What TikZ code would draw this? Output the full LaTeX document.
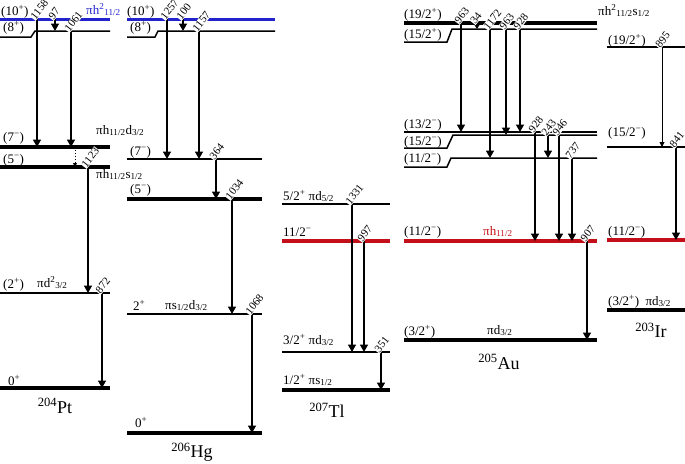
\documentclass[tikz,border=0pt]{standalone}
\usepackage{fontspec}
\setmainfont{Liberation Serif}
\usetikzlibrary{arrows.meta}
\definecolor{hblue}{RGB}{35,35,205}
\definecolor{hred}{RGB}{195,15,25}
\newcommand{\lsb}[1]{\textsubscript{#1}}
\newcommand{\lsp}[1]{\textsuperscript{#1}}
\tikzset{
  lev/.style={line width=1.5pt},
  levk/.style={line width=4.5pt},
  levr/.style={line width=3.5pt, draw=hred},
  levb/.style={line width=3pt, draw=hblue},
  tr/.style={line width=1.6pt, -{Triangle[length=7.5pt,width=8pt]}},
  trthin/.style={line width=0.9pt, -{Triangle[length=5pt,width=5pt]}},
  elab/.style={font=\fontsize{11}{11}\selectfont, fill=white, inner sep=0.4pt, anchor=west, xshift=-5pt, yshift=0pt, rotate=52},
  slab/.style={font=\fontsize{13}{13}\selectfont, inner sep=0pt, anchor=base west},
  iso/.style={font=\fontsize{18}{18}\selectfont, inner sep=0pt}
}
\begin{document}
\begin{tikzpicture}[x=1pt, y=-1pt]
\useasboundingbox (0,0) rectangle (685,463);

% 204Pt
\coordinate (pt10) at (0,19);
\coordinate (pt8) at (0,31);
\coordinate (pt7) at (0,147);
\coordinate (pt5) at (0,167);
\coordinate (pt2) at (0,293);
\coordinate (pt0) at (0,388);

\draw[levb] (pt10) -- ++(110,0);
\draw[lev] (0,37) -- (31,37) -- (35,31) -- (110,31);
\draw[levk] (pt7) -- ++(110,0);
\draw[levk] (pt5) -- ++(110,0);
\draw[lev] (pt2) -- ++(110,0);
\draw[levk] (pt0) -- ++(110,0);

\node[slab] (ptl10) at (1,15) {(10\lsp{+})};
\node[slab, text=hblue] (ptc10) at (86,14) {πh\lsp{2}\lsb{11/2}};
\node[slab] (ptl8) at (3,31) {(8\lsp{+})};
\node[slab] (ptl7) at (3,141) {(7\lsp{−})};
\node[slab] (ptc7) at (96,134) {πh\lsb{11/2}d\lsb{3/2}};
\node[slab] (ptl5) at (3,163) {(5\lsp{−})};
\node[slab] (ptc5) at (96,178) {πh\lsb{11/2}s\lsb{1/2}};
\node[slab] (ptl2) at (3,288) {(2\lsp{+})};
\node[slab] (ptc2) at (37,287) {πd\lsp{2}\lsb{3/2}};
\node[slab] (ptl0) at (8,385) {0\lsp{+}};
\node[iso] (ptn) at (55,406) {\lsp{204}Pt};

\draw[tr] (37,0 |- pt10) node[elab] {1158} -- (37,0 |- pt7);
\draw[tr] (55,0 |- pt10) node[elab] {97} -- (55,0 |- pt8);
\draw[tr] (71,0 |- pt8) node[elab] {1061} -- (71,0 |- pt7);
\draw[dotted, line width=0.9pt, -{Triangle[length=4pt,width=4pt]}] (75,0 |- pt7) -- (75,0 |- pt5);
\draw[tr] (88,0 |- pt5) node[elab] {1123} -- (88,0 |- pt2);
\draw[tr] (102,0 |- pt2) node[elab] {872} -- (102,0 |- pt0);

% 206Hg
\coordinate (hg10) at (127,19);
\coordinate (hg8) at (127,31);
\coordinate (hg7) at (127,159);
\coordinate (hg5) at (127,199);
\coordinate (hg2) at (127,314);
\coordinate (hg0) at (127,433);

\draw[levb] (hg10) -- (275,19);
\draw[lev] (127,37) -- (155,37) -- (158,31) -- (275,31);
\draw[lev] (hg7) -- ++(135,0);
\draw[levk] (hg5) -- ++(135,0);
\draw[lev] (hg2) -- ++(135,0);
\draw[levk] (hg0) -- ++(135,0);

\node[slab] (hgl10) at (127,15) {(10\lsp{+})};
\node[slab] (hgl8) at (130,31) {(8\lsp{+})};
\node[slab] (hgl7) at (130,155) {(7\lsp{−})};
\node[slab] (hgl5) at (130,193) {(5\lsp{−})};
\node[slab] (hgl2) at (133,310) {2\lsp{+}};
\node[slab] (hgc2) at (165,309) {πs\lsb{1/2}d\lsb{3/2}};
\node[slab] (hgl0) at (135,427) {0\lsp{+}};
\node[iso] (hgn) at (192,452) {\lsp{206}Hg};

\draw[tr] (167,0 |- hg10) node[elab] {1257} -- (167,0 |- hg7);
\draw[tr] (183,0 |- hg10) node[elab] {100} -- (183,0 |- hg8);
\draw[tr] (199,0 |- hg8) node[elab] {1157} -- (199,0 |- hg7);
\draw[tr] (216,0 |- hg7) node[elab] {364} -- (216,0 |- hg5);
\draw[tr] (232,0 |- hg5) node[elab] {1034} -- (232,0 |- hg2);
\draw[tr] (252,0 |- hg2) node[elab] {1068} -- (252,0 |- hg0);

% 207Tl
\coordinate (tl5) at (282,204);
\coordinate (tl11) at (282,241);
\coordinate (tl3) at (282,352);
\coordinate (tl1) at (282,390);

\draw[lev] (tl5) -- ++(108,0);
\draw[levr] (tl11) -- ++(108,0);
\draw[lev] (tl3) -- ++(108,0);
\draw[levk] (tl1) -- ++(108,0);

\node[slab] (tll5) at (283,200) {5/2\lsp{+} πd\lsb{5/2}};
\node[slab] (tll11) at (283,236) {11/2\lsp{−}};
\node[slab] (tll3) at (283,344) {3/2\lsp{+} πd\lsb{3/2}};
\node[slab] (tll1) at (283,384) {1/2\lsp{+} πs\lsb{1/2}};
\node[iso] (tln) at (327,410) {\lsp{207}Tl};

\draw[tr] (352,0 |- tl5) node[elab] {1331} -- (352,0 |- tl3);
\draw[tr] (364,0 |- tl11) node[elab] {997} -- (364,0 |- tl3);
\draw[tr] (381,0 |- tl3) node[elab] {351} -- (381,0 |- tl1);

% 205Au
\coordinate (au19) at (404,23);
\coordinate (au15p) at (404,29);
\coordinate (au13) at (404,132);
\coordinate (au15m) at (404,135);
\coordinate (au11) at (404,158);
\coordinate (au11r) at (404,241);
\coordinate (au3) at (404,340);

\draw[levk] (au19) -- ++(193,0);
\draw[lev] (404,42) -- (447,42) -- (452,29) -- (597,29);
\draw[line width=2pt] (au13) -- ++(193,0);
\draw[lev] (404,148) -- (447,148) -- (453,135) -- (597,135);
\draw[lev] (404,167) -- (447,167) -- (451,158) -- (597,158);
\draw[levr] (au11r) -- ++(193,0);
\draw[levk] (au3) -- ++(193,0);

\node[slab] (aul19) at (404,18) {(19/2\lsp{+})};
\node[slab] (aul15p) at (404,38) {(15/2\lsp{+})};
\node[slab] (auc19) at (598,15) {πh\lsp{2}\lsb{11/2}s\lsb{1/2}};
\node[slab] (aul13) at (404,128) {(13/2\lsp{−})};
\node[slab] (aul15m) at (404,145) {(15/2\lsp{−})};
\node[slab] (aul11) at (404,162) {(11/2\lsp{−})};
\node[slab] (aul11r) at (404,235) {(11/2\lsp{−})};
\node[slab, text=hred] (auc11r) at (483,235) {πh\lsb{11/2}};
\node[slab] (aul3) at (404,335) {(3/2\lsp{+})};
\node[slab] (auc3) at (487,334) {πd\lsb{3/2}};
\node[iso] (aun) at (499,362) {\lsp{205}Au};

\draw[tr] (461,0 |- au19) node[elab] {963} -- (461,0 |- au13);
\draw[line width=1.2pt, -{Triangle[length=5pt,width=6pt]}] (477,0 |- au19) node[elab] {34} -- (477,0 |- au15p);
\draw[tr] (490,0 |- au15p) node[elab] {1172} -- (490,0 |- au11);
\draw[tr] (506,0 |- au15p) node[elab] {963} -- (506,0 |- au15m);
\draw[tr] (520,0 |- au15p) node[elab] {928} -- (520,0 |- au13);
\draw[tr] (535,0 |- au13) node[elab] {928} -- (535,0 |- au11r);
\draw[tr] (548,0 |- au15m) node[elab] {243} -- (548,0 |- au11);
\draw[tr] (559,0 |- au15m) node[elab] {946} -- (559,0 |- au11r);
\draw[tr] (572,0 |- au11) node[elab] {737} -- (572,0 |- au11r);
\draw[tr] (587,0 |- au11r) node[elab] {907} -- (587,0 |- au3);

% 203Ir
\coordinate (ir19) at (607,47);
\coordinate (ir15) at (607,147);
\coordinate (ir11) at (607,240);
\coordinate (ir3) at (607,310);

\draw[lev] (ir19) -- ++(80,0);
\draw[lev] (ir15) -- ++(80,0);
\draw[levr] (ir11) -- ++(80,0);
\draw[levk] (ir3) -- ++(80,0);

\node[slab] (irl19) at (608,44) {(19/2\lsp{+})};
\node[slab] (irl15) at (608,136) {(15/2\lsp{−})};
\node[slab] (irl11) at (608,235) {(11/2\lsp{−})};
\node[slab] (irl3) at (608,305) {(3/2\lsp{+})\ \ πd\lsb{3/2}};
\node[iso] (irn) at (651,330) {\lsp{203}Ir};

\draw[trthin] (662,0 |- ir19) node[elab] {895} -- (662,0 |- ir15);
\draw[tr] (676,0 |- ir15) node[elab] {841} -- (676,0 |- ir11);
\end{tikzpicture}
\end{document}
